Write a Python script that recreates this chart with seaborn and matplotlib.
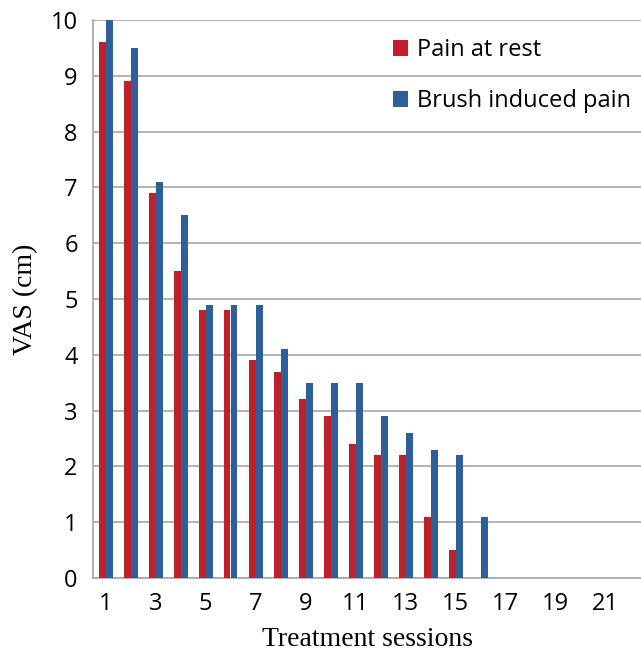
import matplotlib
matplotlib.use("Agg")
import matplotlib.pyplot as plt
import seaborn as sns
import pandas as pd

sessions = list(range(1, 23))
pain_at_rest = [9.6, 8.9, 6.9, 5.5, 4.8, 4.8, 3.9, 3.7, 3.2, 2.9, 2.4, 2.2, 2.2, 1.1, 0.5,
                0, 0, 0, 0, 0, 0, 0]
brush_induced = [10, 9.5, 7.1, 6.5, 4.9, 4.9, 4.9, 4.1, 3.5, 3.5, 3.5, 2.9, 2.6, 2.3, 2.2,
                 1.1, 0, 0, 0, 0, 0, 0]
series_names = ["Pain at rest", "Brush induced pain"]
colors = ["#C0202A", "#2F5F98"]

df = pd.DataFrame({
    "session": sessions * 2,
    "value": pain_at_rest + brush_induced,
    "series": [series_names[0]] * len(sessions) + [series_names[1]] * len(sessions),
})

sns.set_style("white")
plt.rcParams["font.family"] = ["Open Sans", "DejaVu Sans"]
plt.rcParams["text.color"] = "black"
plt.rcParams["xtick.color"] = "black"
plt.rcParams["ytick.color"] = "black"
plt.rcParams["axes.labelcolor"] = "black"

fig = plt.figure(figsize=(6.41, 6.53), dpi=100)
ax = fig.add_axes([93 / 641, 1 - 578 / 653, 548 / 641, 558 / 653])

sns.barplot(data=df, x="session", y="value", hue="series", order=sessions,
            hue_order=series_names, palette=colors, width=0.56, ax=ax,
            saturation=1, errorbar=None, linewidth=0, edgecolor="none", zorder=3)

ax.set_ylim(0, 10)
ax.set_xlim(-0.5, 21.42)
ax.set_yticks(range(0, 11))
ax.set_yticklabels([str(i) for i in range(0, 11)], fontsize=17)
ax.set_xticks(range(0, 22, 2))
ax.set_xticklabels([str(s) for s in sessions[::2]], fontsize=17)
ax.tick_params(axis="both", length=0)
ax.tick_params(axis="y", pad=11)
ax.tick_params(axis="x", pad=10)

ax.grid(axis="y", color="#A6A6A6", linewidth=1.2, zorder=0)
ax.set_axisbelow(True)
for side in ["top", "right"]:
    ax.spines[side].set_visible(False)
for side in ["left", "bottom"]:
    ax.spines[side].set_color("#A6A6A6")
    ax.spines[side].set_linewidth(1.2)

ax.set_xlabel("Treatment sessions", fontsize=20, family=["Liberation Serif"], labelpad=8)
ax.set_ylabel("VAS (cm)", fontsize=20, family=["Liberation Serif"], labelpad=9)

leg = ax.legend(loc="upper left", bbox_to_anchor=(393 / 641, 1 - 38 / 653),
                bbox_transform=fig.transFigure, frameon=False, fontsize=17,
                handlelength=0.64, handleheight=0.64, handletextpad=0.38,
                labelspacing=1.15, borderpad=0, borderaxespad=0)

fig.savefig("out.png", dpi=100)
